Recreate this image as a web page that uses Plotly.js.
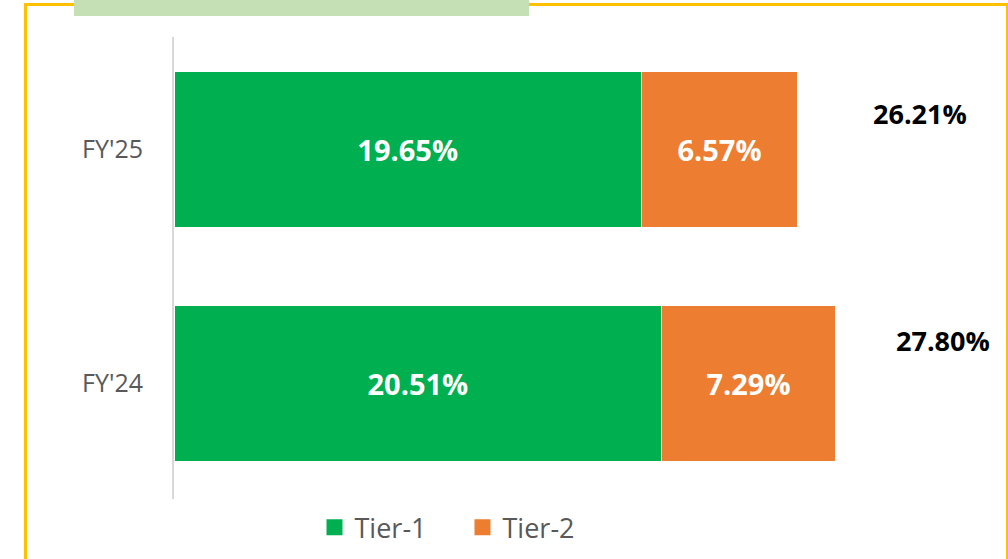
<!DOCTYPE html>
<html>
<head>
<meta charset="utf-8">
<script src="https://cdn.plot.ly/plotly-3.0.1.min.js"></script>
<style>
  html, body { margin: 0; padding: 0; background: #ffffff; }
  #wrap { position: relative; width: 1008px; height: 559px; overflow: hidden; background: #fff; }
  #chart { position: absolute; left: 0; top: 0; width: 1008px; height: 559px; }
  #frame { position: absolute; left: 24px; top: 3px; width: 979px; height: 620px;
           border-left: 3px solid #FFC000; border-top: 3px solid #FFC000; border-right: 3px solid #FFC000;
           pointer-events: none; }
  #band { position: absolute; left: 74px; top: 0; width: 455px; height: 16px; background: #C5E0B4; pointer-events: none; }
</style>
</head>
<body>
<div id="wrap">
  <div id="chart"></div>
  <div id="frame"></div>
  <div id="band"></div>
</div>
<script>
const categories = ["FY'24", "FY'25"];
const tier1 = [20.51, 19.65];
const tier2 = [7.29, 6.57];
const totals = [27.80, 26.21];
const seriesNames = ["Tier-1", "Tier-2"];
const seriesColors = ["#00B050", "#ED7D31"];

const fontFam = "Open Sans, Noto Sans, sans-serif";
const pct = v => v.toFixed(2) + "%";

const barTrace = (vals, i) => ({
  type: "bar", orientation: "h", name: seriesNames[i], showlegend: false,
  y: categories, x: vals,
  marker: { color: seriesColors[i], line: { color: "#ffffff", width: 1 } },
  text: vals.map(pct), textposition: "inside", insidetextanchor: "middle",
  textfont: { family: fontFam, size: 29, color: "#ffffff", weight: "bold" },
  hoverinfo: "skip"
});

// legend-only entries (larger square swatches)
const legendTrace = i => ({
  type: "scatter", mode: "markers", name: seriesNames[i],
  x: [null], y: [null],
  marker: { symbol: "square", size: 16, color: seriesColors[i] },
  hoverinfo: "skip"
});

const traces = [barTrace(tier1, 0), barTrace(tier2, 1), legendTrace(0), legendTrace(1)];

const xShifts = [59, 74];
const yShifts = [43, 36];
const annotations = totals.map((t, i) => ({
  x: t, y: categories[i], xref: "x", yref: "y",
  text: "<b>" + pct(t) + "</b>", showarrow: false,
  xanchor: "left", yanchor: "middle",
  xshift: xShifts[i], yshift: yShifts[i],
  font: { family: fontFam, size: 27, color: "#000000" }
}));

const layout = {
  width: 1008, height: 559,
  margin: { l: 174, r: 4, t: 37, b: 60 },
  paper_bgcolor: "rgba(0,0,0,0)", plot_bgcolor: "rgba(0,0,0,0)",
  barmode: "stack", bargap: 0.333,
  showlegend: true,
  legend: {
    orientation: "h", xref: "container", yref: "container",
    x: 0.312, y: 0.056, xanchor: "left", yanchor: "middle",
    font: { family: fontFam, size: 27, color: "#595959" },
    itemwidth: 30, traceorder: "normal",
    entrywidth: 103, entrywidthmode: "pixels"
  },
  xaxis: { range: [0, 34.9], visible: false, fixedrange: true },
  yaxis: {
    type: "category", categoryorder: "array", categoryarray: categories,
    range: [-0.495, 1.479],
    showline: true, linecolor: "#D9D9D9", linewidth: 2,
    ticks: "", showgrid: false, zeroline: false,
    ticklabelstandoff: 24,
    tickfont: { family: fontFam, size: 25, color: "#595959" }
  },
  annotations: annotations
};

Plotly.newPlot("chart", traces, layout, { displayModeBar: false, staticPlot: true });
</script>
</body>
</html>
